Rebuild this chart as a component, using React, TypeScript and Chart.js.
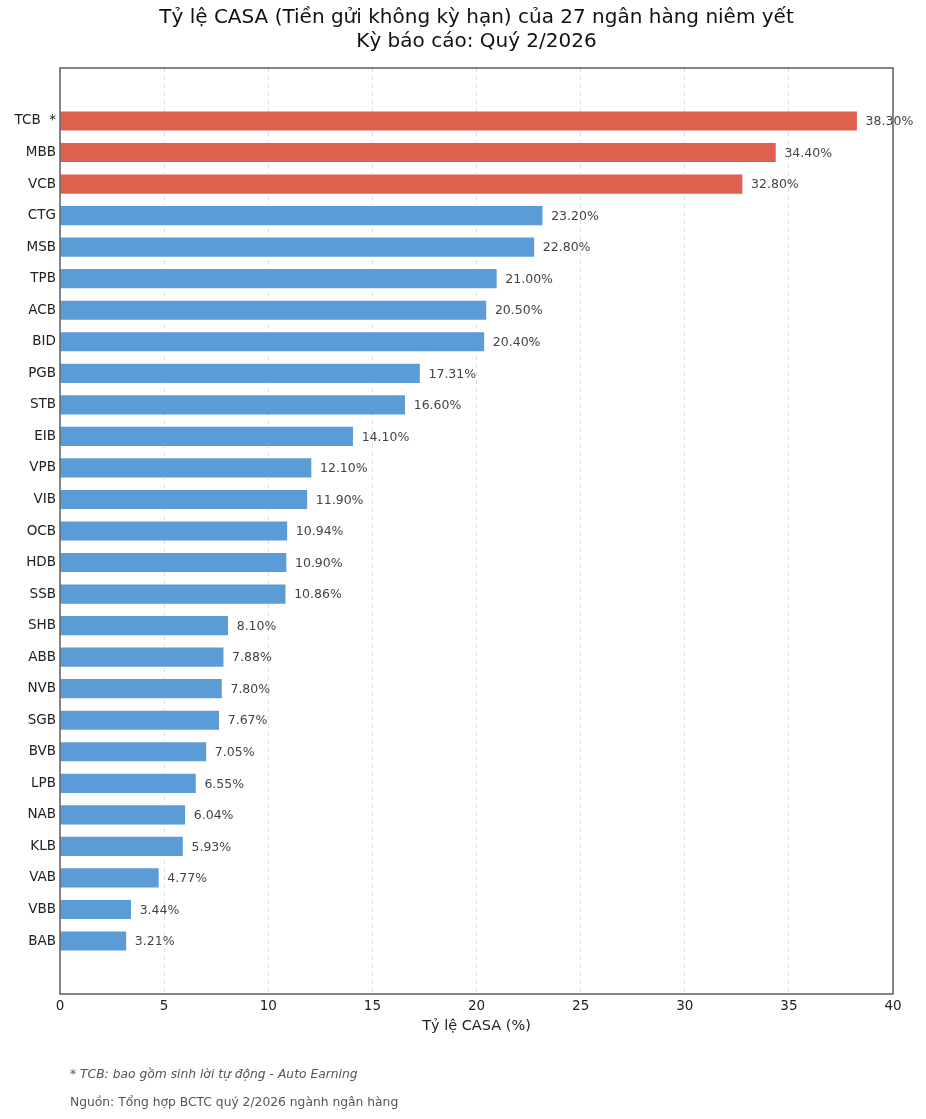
import { useEffect, useRef } from "react";
import { Chart, registerables } from "chart.js";

Chart.register(...registerables);

const banks = [
  "TCB  *", "MBB", "VCB", "CTG", "MSB", "TPB", "ACB", "BID", "PGB", "STB",
  "EIB", "VPB", "VIB", "OCB", "HDB", "SSB", "SHB", "ABB", "NVB", "SGB",
  "BVB", "LPB", "NAB", "KLB", "VAB", "VBB", "BAB",
];
const casaValues = [
  38.3, 34.4, 32.8, 23.2, 22.8, 21.0, 20.5, 20.4, 17.31, 16.6,
  14.1, 12.1, 11.9, 10.94, 10.9, 10.86, 8.1, 7.88, 7.8, 7.67,
  7.05, 6.55, 6.04, 5.93, 4.77, 3.44, 3.21,
];
const highlightCount = 3;
const xTicks = [0, 5, 10, 15, 20, 25, 30, 35, 40];
const titleLines = [
  "Tỷ lệ CASA (Tiền gửi không kỳ hạn) của 27 ngân hàng niêm yết",
  "Kỳ báo cáo: Quý 2/2026",
];
const xTitle = "Tỷ lệ CASA (%)";
const footNote = "* TCB: bao gồm sinh lời tự động - Auto Earning";
const sourceNote = "Nguồn: Tổng hợp BCTC quý 2/2026 ngành ngân hàng";

const FONT = "'DejaVu Sans', sans-serif";
const RED = "#e0604f";
const BLUE = "#5b9bd6";

const decor = {
  id: "decor",
  afterDraw(chart: any) {
    const { ctx, chartArea } = chart;
    const { left, right, top, bottom } = chartArea;
    ctx.save();
    // frame
    ctx.strokeStyle = "#444";
    ctx.lineWidth = 1.3;
    ctx.strokeRect(left, top, right - left, bottom - top);
    // value labels
    const meta = chart.getDatasetMeta(0);
    ctx.font = `12.5px ${FONT}`;
    ctx.fillStyle = "#444";
    ctx.textAlign = "left";
    ctx.textBaseline = "middle";
    meta.data.forEach((bar: any, i: number) => {
      ctx.fillText(casaValues[i].toFixed(2) + "%", bar.x + 8, bar.y + 1);
    });
    // title
    ctx.fillStyle = "#111";
    ctx.textAlign = "center";
    ctx.font = `20px ${FONT}`;
    const cx = (left + right) / 2;
    ctx.fillText(titleLines[0], cx, 18);
    ctx.fillText(titleLines[1], cx, 42);
    // footnotes
    ctx.textAlign = "left";
    ctx.fillStyle = "#555";
    ctx.font = `italic 12.3px ${FONT}`;
    ctx.fillText(footNote, 70, 1075);
    ctx.font = `12.3px ${FONT}`;
    ctx.fillText(sourceNote, 70, 1103);
    ctx.restore();
  },
};

const App = () => {
  const chartRef = useRef<HTMLCanvasElement | null>(null);
  const chartInstance = useRef<Chart | null>(null);

  useEffect(() => {
    document.body.style.margin = "0";
    if (!chartRef.current) return;
    if (chartInstance.current) chartInstance.current.destroy();

    chartInstance.current = new Chart(chartRef.current, {
      type: "bar",
      data: {
        datasets: [
          {
            data: casaValues.map((v, i) => ({ x: v, y: i })),
            backgroundColor: casaValues.map((_, i) => (i < highlightCount ? RED : BLUE)),
            borderColor: "rgba(255,255,255,0.45)",
            borderWidth: 1,
            barThickness: 20.5,
          },
        ],
      },
      options: {
        indexAxis: "y",
        responsive: false,
        animation: false,
        layout: { padding: { left: 0, top: 68, right: 33, bottom: 75 } },
        plugins: {
          legend: { display: false },
          tooltip: { enabled: false },
        },
        scales: {
          x: {
            type: "linear",
            min: 0,
            max: 40,
            afterFit: (s: any) => {
              s.height = 50;
            },
            afterBuildTicks: (s: any) => {
              s.ticks = xTicks.map((v) => ({ value: v }));
            },
            border: { display: false, dash: [4, 4] },
            grid: {
              color: (c: any) =>
                c.tick && (c.tick.value === 0 || c.tick.value === 40) ? "rgba(0,0,0,0)" : "#dcdcdc",
              drawTicks: false,
              lineWidth: 1,
            },
            ticks: {
              color: "#222",
              font: { family: FONT, size: 13.5 },
              padding: 4,
              maxRotation: 0,
            },
            title: {
              display: true,
              text: xTitle,
              color: "#222",
              font: { family: FONT, size: 14.5 },
              padding: { top: 0, bottom: 9 },
            },
          },
          y: {
            type: "linear",
            reverse: true,
            offset: false,
            min: -1.68,
            max: 27.68,
            afterFit: (s: any) => {
              s.width = 60;
            },
            border: { display: false },
            grid: { display: false, drawTicks: false, offset: false },
            ticks: {
              stepSize: 1,
              autoSkip: false,
              maxTicksLimit: 60,
              color: "#222",
              font: { family: FONT, size: 13.5 },
              padding: 4,
              callback: (v: any) => {
                const n = Number(v);
                return Number.isInteger(n) && n >= 0 && n < banks.length ? banks[n] : "";
              },
            },
          },
        },
      },
      plugins: [decor],
    } as any);

    return () => {
      if (chartInstance.current) {
        chartInstance.current.destroy();
        chartInstance.current = null;
      }
    };
  }, []);

  return (
    <div style={{ width: 926, height: 1119, background: "#fff" }}>
      <canvas ref={chartRef} width={926} height={1119} />
    </div>
  );
};

export default App;
